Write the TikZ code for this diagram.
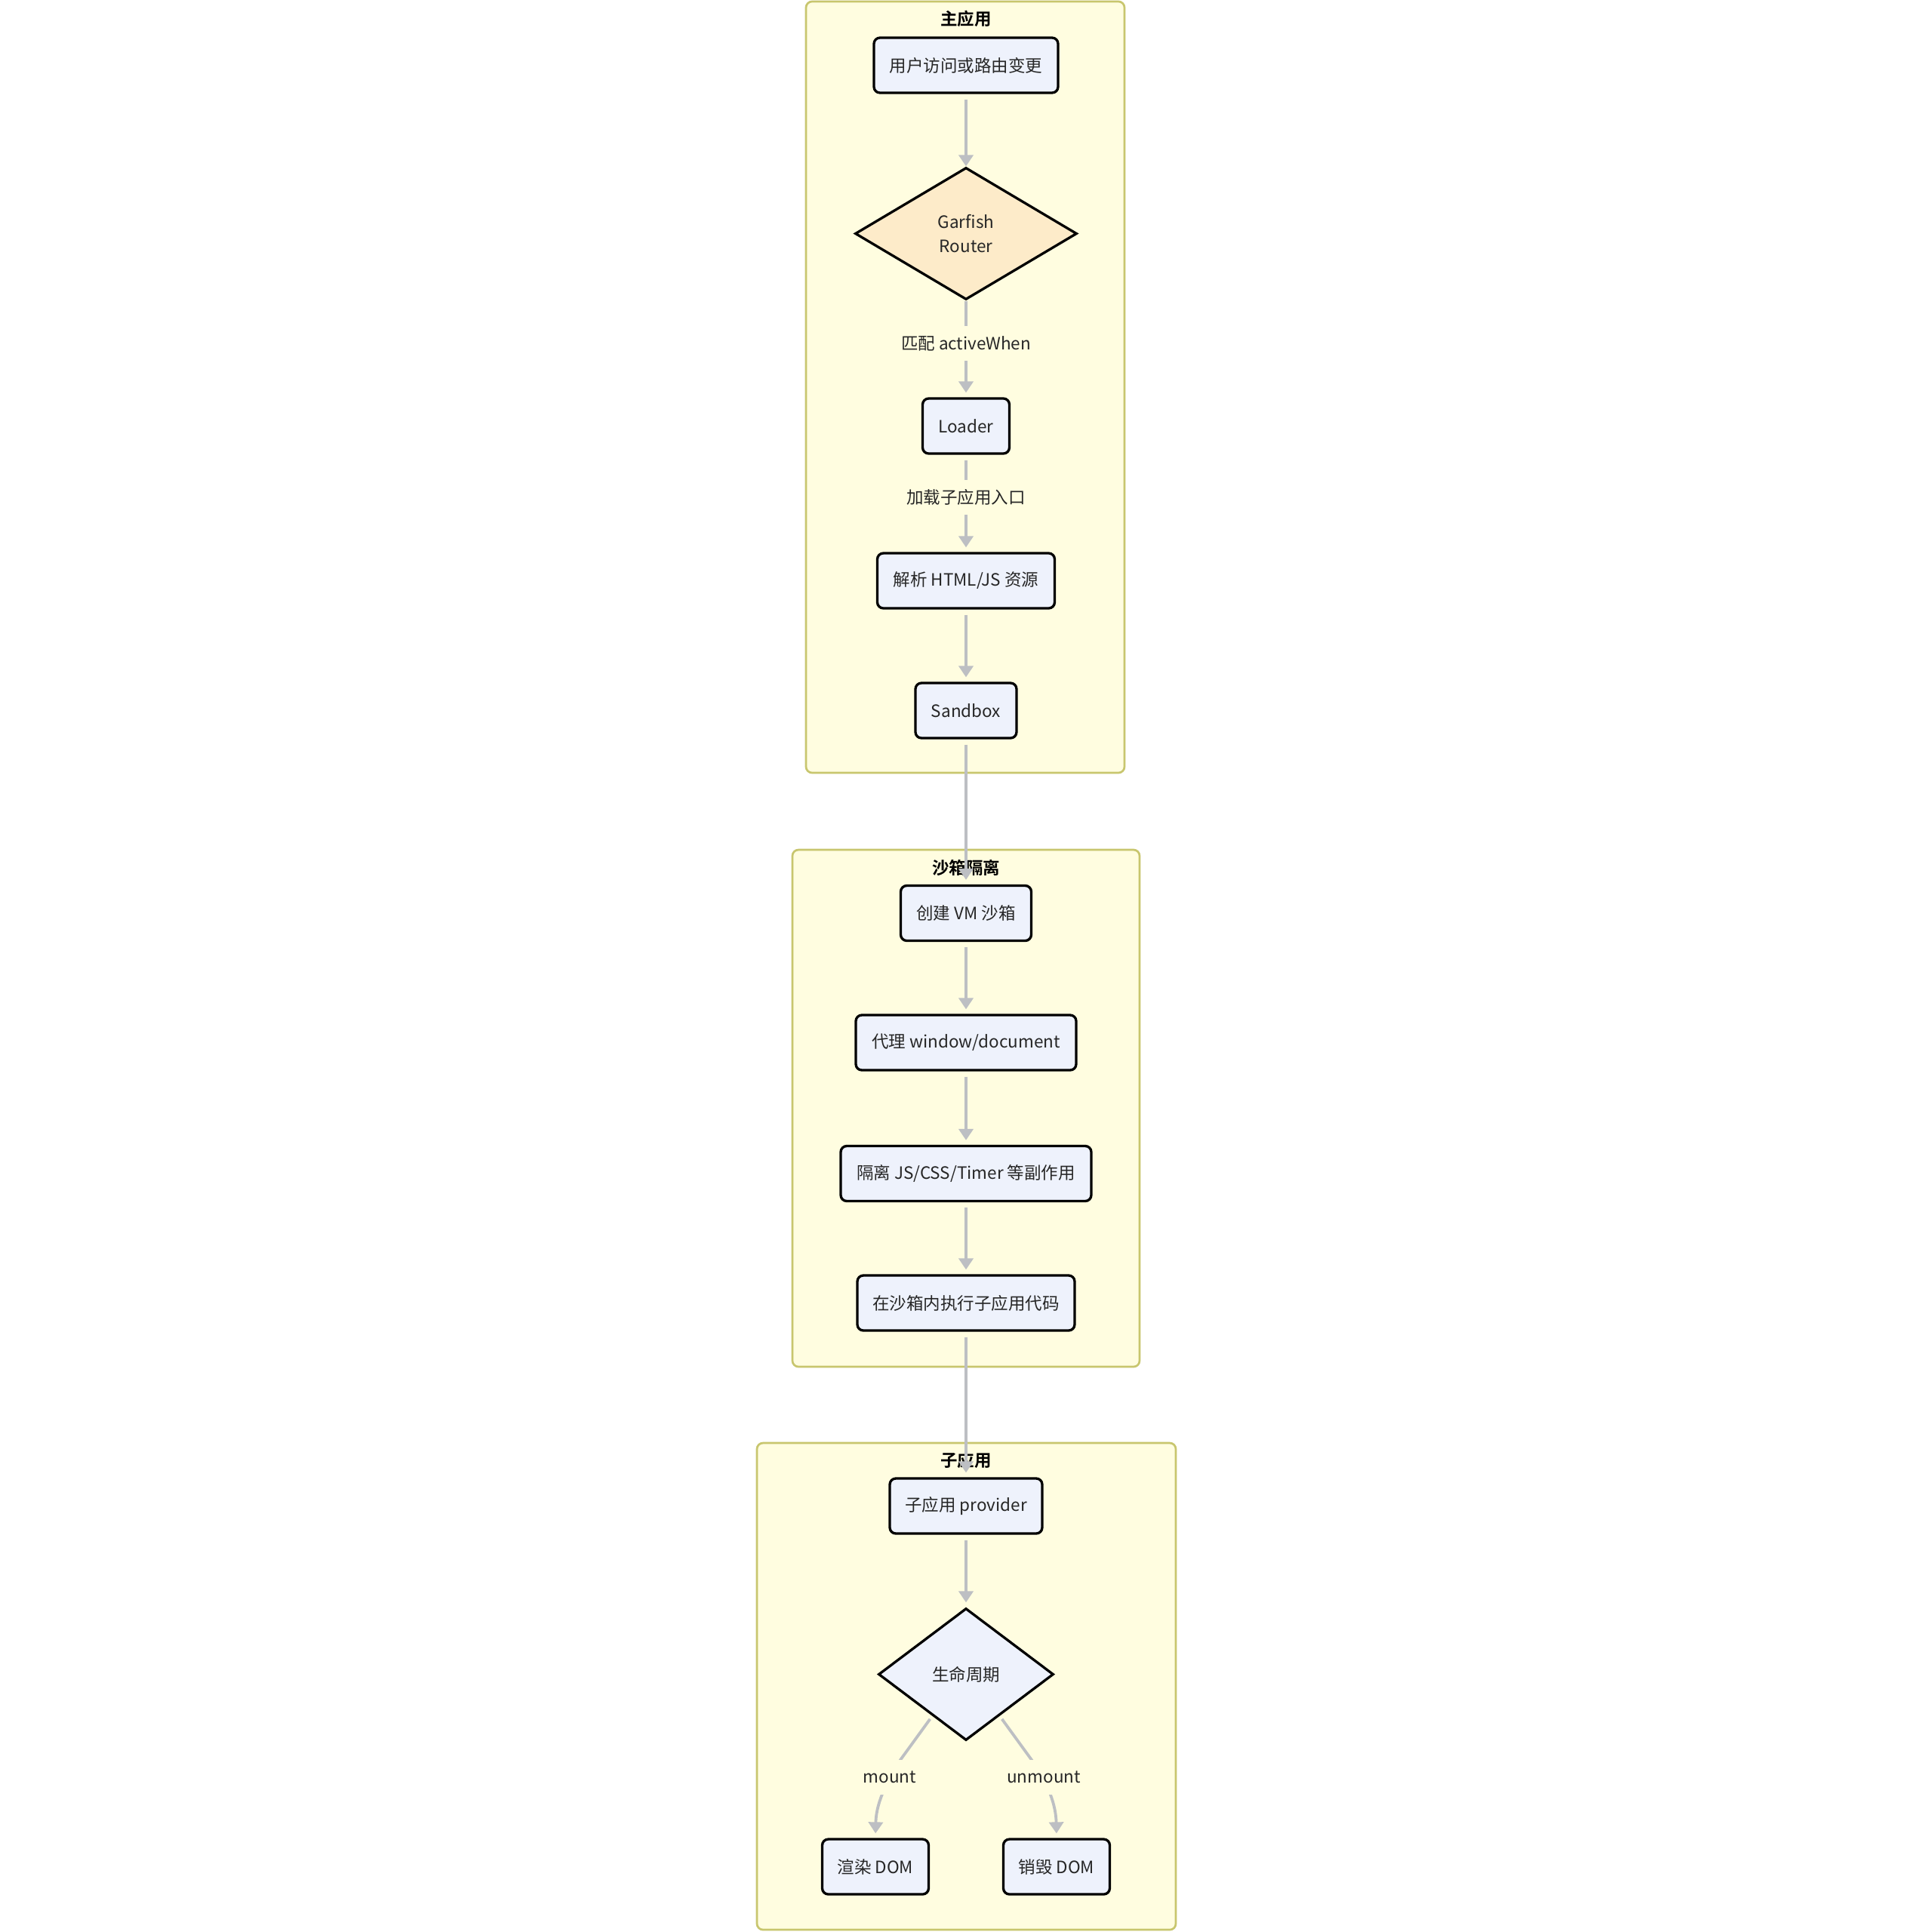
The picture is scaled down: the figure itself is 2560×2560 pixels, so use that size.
\documentclass[tikz,border=0pt]{standalone}
\usepackage{fontspec}
\setmainfont{Noto Sans CJK SC}[BoldFont={Noto Sans CJK SC Bold}]
\usetikzlibrary{shapes.geometric,arrows.meta,calc}
\definecolor{clfill}{HTML}{FFFDE0}
\definecolor{cldraw}{HTML}{C8C66E}
\definecolor{nfill}{HTML}{EEF2FC}
\definecolor{dfill}{HTML}{FDEBC9}
\definecolor{egray}{HTML}{BDBFC3}
\definecolor{txt}{HTML}{262626}
\begin{document}
\begin{tikzpicture}[x=0.1mm,y=-0.1mm,
  font=\fontsize{6.4pt}{7.7pt}\selectfont,
  cluster/.style={draw=cldraw, fill=clfill, line width=0.27mm, rounded corners=0.8mm, inner sep=0},
  box/.style={draw=black, fill=nfill, line width=0.33mm, rounded corners=0.8mm, minimum height=7.3mm, inner sep=0, align=center, text=txt},
  dia/.style={shape=diamond, draw=black, line width=0.33mm, inner sep=0, align=center, text=txt},
  edge/.style={draw=egray, line width=0.38mm, -{Triangle[length=1.5mm,width=1.9mm]}},
  lbl/.style={fill=clfill, inner xsep=0.3mm, inner ysep=0, minimum height=4.6mm, text=txt},
  ttl/.style={font=\fontsize{6.4pt}{7.7pt}\selectfont\bfseries, text=black, inner sep=0}]
\useasboundingbox[fill=white] (0,0) rectangle (2560,2560);

% clusters
\node[cluster, minimum width=42.2mm, minimum height=102.2mm] (cmain) at (1279,513) {};
\node[cluster, minimum width=46mm, minimum height=68.5mm] (csand) at (1280,1468.5) {};
\node[cluster, minimum width=55.5mm, minimum height=64.5mm] (csub) at (1280.5,2234.5) {};
\node[ttl] (tmain) at (1280,25) {主应用};
\node[ttl] (tsand) at (1280,1150) {沙箱隔离};
\node[ttl] (tsub) at (1280,1935) {子应用};

% nodes
\node[box, minimum width=24.4mm] (n1) at (1280,86.5) {用户访问或路由变更};
\node[dia, fill=dfill, minimum width=29.4mm, minimum height=17.5mm, font=\fontsize{6.4pt}{9.1pt}\selectfont] (garfish) at (1280,309.5) {Garfish\\Router};
\node[box, minimum width=11.5mm] (loader) at (1280,564.5) {Loader};
\node[box, minimum width=23.5mm] (parse) at (1280,769.5) {解析 HTML/JS 资源};
\node[box, minimum width=13.4mm] (sandbox) at (1280,941.5) {Sandbox};
\node[box, minimum width=17.3mm] (vm) at (1280,1210) {创建 VM 沙箱};
\node[box, minimum width=29.2mm] (proxy) at (1280,1381.5) {代理 window/document};
\node[box, minimum width=33.2mm] (iso) at (1280,1555) {隔离 JS/CSS/Timer 等副作用};
\node[box, minimum width=28.8mm] (exec) at (1280,1726.5) {在沙箱内执行子应用代码};
\node[box, minimum width=20.2mm] (prov) at (1280,1995.5) {子应用 provider};
\node[dia, fill=nfill, minimum width=23.2mm, minimum height=17.5mm] (life) at (1280,2218.5) {生命周期};
\node[box, minimum width=14.1mm] (render) at (1160,2473.5) {渲染 DOM};
\node[box, minimum width=14.1mm] (destroy) at (1400,2473.5) {销毁 DOM};

% edges
\draw[edge, shorten <=0.7mm] (n1) -- (garfish);
\draw[edge, shorten >=0.6mm] (garfish) -- (loader);
\draw[edge, shorten <=0.7mm, shorten >=0.6mm] (loader) -- (parse);
\draw[edge, shorten <=0.7mm, shorten >=0.6mm] (parse) -- (sandbox);
\draw[edge, shorten <=0.7mm, shorten >=0.6mm] (sandbox) -- (vm);
\draw[edge, shorten <=0.7mm, shorten >=0.6mm] (vm) -- (proxy);
\draw[edge, shorten <=0.7mm, shorten >=0.6mm] (proxy) -- (iso);
\draw[edge, shorten <=0.7mm, shorten >=0.6mm] (iso) -- (exec);
\draw[edge, shorten <=0.7mm, shorten >=0.6mm] (exec) -- (prov);
\draw[edge, shorten <=0.7mm, shorten >=0.6mm] (prov) -- (life);
\coordinate (ms) at ($(life.south)!0.38!(life.west)$);
\coordinate (us) at ($(life.south)!0.38!(life.east)$);
\draw[edge, shorten <=0.5mm, shorten >=0.6mm] (ms) -- (1193,2332) .. controls (1179,2355) and (1161,2385) .. (render.north);
\draw[edge, shorten <=0.5mm, shorten >=0.6mm] (us) -- (1367,2332) .. controls (1383,2355) and (1399,2385) .. (destroy.north);

% edge labels
\node[lbl] (l1) at (1280,455) {匹配 activeWhen};
\node[lbl] (l2) at (1280,659) {加载子应用入口};
\node[lbl] (lm) at (1179,2355) {mount};
\node[lbl] (lu) at (1383,2355) {unmount};
\end{tikzpicture}
\end{document}
